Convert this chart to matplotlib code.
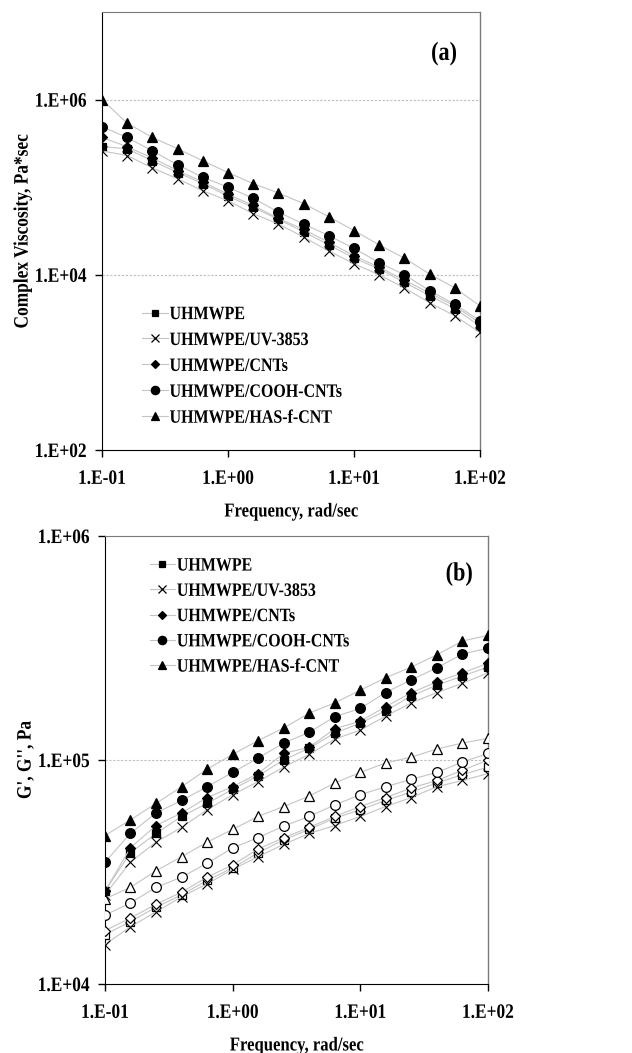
import math
import matplotlib
matplotlib.use("Agg")
import matplotlib.pyplot as plt
from matplotlib.lines import Line2D
from matplotlib.patheffects import AbstractPathEffect
from matplotlib.transforms import Affine2D

plt.rcParams['font.family'] = ['Liberation Serif', 'DejaVu Serif']
plt.rcParams['font.weight'] = 'bold'

freq = [0.1, 0.158, 0.251, 0.398, 0.631, 1.0, 1.58, 2.51, 3.98, 6.31,
        10.0, 15.8, 25.1, 39.8, 63.1, 100.0]

names = ["UHMWPE", "UHMWPE/UV-3853", "UHMWPE/CNTs", "UHMWPE/COOH-CNTs", "UHMWPE/HAS-f-CNT"]

# (a) complex viscosity, Pa*sec
eta_uhmwpe = [2.9e5, 2.75e5, 2.0e5, 1.47e5, 1.1e5, 7.9e4, 5.9e4, 4.3e4, 3.1e4, 2.2e4,
              1.55e4, 1.17e4, 8.2e3, 5.8e3, 4.1e3, 2.6e3]
eta_uv = [2.6e5, 2.3e5, 1.66e5, 1.25e5, 9.1e4, 7.0e4, 5.0e4, 3.8e4, 2.7e4, 1.87e4,
          1.34e4, 1.0e4, 7.1e3, 4.8e3, 3.4e3, 2.2e3]
eta_cnt = [3.7e5, 2.9e5, 2.15e5, 1.55e5, 1.15e5, 8.3e4, 6.2e4, 4.4e4, 3.3e4, 2.35e4,
           1.65e4, 1.22e4, 8.7e3, 6.2e3, 4.4e3, 2.8e3]
eta_cooh = [4.9e5, 3.7e5, 2.6e5, 1.8e5, 1.3e5, 1.0e5, 7.5e4, 5.2e4, 3.8e4, 2.8e4,
            2.0e4, 1.38e4, 1.0e4, 6.6e3, 4.6e3, 3.0e3]
eta_has = [1.0e6, 5.4e5, 3.7e5, 2.75e5, 2.0e5, 1.47e5, 1.1e5, 8.6e4, 6.5e4, 4.6e4,
           3.2e4, 2.2e4, 1.55e4, 1.02e4, 7.1e3, 4.4e3]

# (b) storage modulus G' (filled) and loss modulus G'' (open), Pa
gp_uhmwpe = [2.6e4, 3.85e4, 4.7e4, 5.6e4, 6.4e4, 7.4e4, 8.5e4, 1.0e5, 1.13e5, 1.32e5,
             1.46e5, 1.66e5, 1.93e5, 2.16e5, 2.37e5, 2.6e5]
gp_uv = [2.5e4, 3.5e4, 4.3e4, 5.0e4, 6.0e4, 7.0e4, 8.0e4, 9.3e4, 1.06e5, 1.24e5,
         1.36e5, 1.57e5, 1.8e5, 2.0e5, 2.2e5, 2.45e5]
gp_cnt = [2.6e4, 4.05e4, 5.1e4, 5.8e4, 6.8e4, 7.6e4, 8.7e4, 1.07e5, 1.14e5, 1.38e5,
          1.49e5, 1.73e5, 2.0e5, 2.23e5, 2.45e5, 2.7e5]
gp_cooh = [3.5e4, 4.7e4, 5.8e4, 6.6e4, 7.6e4, 8.8e4, 1.02e5, 1.19e5, 1.33e5, 1.56e5,
           1.7e5, 2.0e5, 2.28e5, 2.58e5, 2.97e5, 3.16e5]
gp_has = [4.6e4, 5.4e4, 6.4e4, 7.6e4, 9.1e4, 1.06e5, 1.22e5, 1.39e5, 1.62e5, 1.8e5,
          2.05e5, 2.33e5, 2.6e5, 2.95e5, 3.4e5, 3.6e5]

gpp_uhmwpe = [1.66e4, 1.9e4, 2.2e4, 2.5e4, 2.9e4, 3.3e4, 3.85e4, 4.4e4, 4.9e4, 5.5e4,
              6.0e4, 6.6e4, 7.2e4, 7.9e4, 8.6e4, 9.3e4]
gpp_uv = [1.5e4, 1.8e4, 2.1e4, 2.45e4, 2.8e4, 3.25e4, 3.7e4, 4.2e4, 4.7e4, 5.1e4,
          5.6e4, 6.2e4, 6.8e4, 7.6e4, 8.1e4, 8.7e4]
gpp_cnt = [1.73e4, 1.97e4, 2.27e4, 2.57e4, 3.0e4, 3.4e4, 4.0e4, 4.5e4, 5.0e4, 5.6e4,
           6.2e4, 6.8e4, 7.5e4, 8.1e4, 9.0e4, 1.0e5]
gpp_cooh = [2.03e4, 2.3e4, 2.7e4, 3.0e4, 3.46e4, 4.05e4, 4.5e4, 5.07e4, 5.6e4, 6.3e4,
            7.0e4, 7.6e4, 8.2e4, 8.8e4, 9.8e4, 1.07e5]
gpp_has = [2.4e4, 2.7e4, 3.2e4, 3.7e4, 4.3e4, 4.9e4, 5.6e4, 6.2e4, 6.9e4, 7.9e4,
           8.8e4, 9.7e4, 1.03e5, 1.12e5, 1.19e5, 1.25e5]

markers = ['s', 'x', 'D', 'o', '^']
msizes = [6, 7, 5, 7, 7]
line_c = '#c4c4c4'


class Stretch(AbstractPathEffect):
    """Stretch glyphs vertically (condensed look of the original)."""
    def __init__(self, sy=1.18):
        super().__init__()
        self.sy = sy

    def draw_path(self, renderer, gc, tpath, affine, rgbFace=None):
        c = 33.0
        t = Affine2D().translate(0, -c).scale(1.0, self.sy).translate(0, c) + affine
        renderer.draw_path(gc, tpath, t, rgbFace)


STR = [Stretch(1.18)]

fig = plt.figure(figsize=(6.32, 10.53), dpi=100)
axA = fig.add_axes([102/632, 1-450/1053, 378/632, 438/1053])
axB = fig.add_axes([105/632, 1-984/1053, 383/632, 448/1053])


def style(ax, ylim, yticks, grid_vals):
    ax.set_xscale('log')
    ax.set_yscale('log')
    ax.set_xlim(0.1, 100)
    ax.set_ylim(*ylim)
    ax.set_xticks([0.1, 1, 10, 100])
    ax.set_xticklabels(['1.E-01', '1.E+00', '1.E+01', '1.E+02'])
    ax.set_yticks(yticks)
    ax.set_yticklabels(['1.E+%02d' % int(round(math.log10(v))) for v in yticks])
    ax.minorticks_off()
    ax.tick_params(axis='both', direction='out', length=5, width=1, labelsize=12.5, color='black')
    ax.tick_params(axis='x', pad=10)
    ax.tick_params(axis='y', pad=6)
    for v in grid_vals:
        ax.axhline(v, color='#bdbdbd', lw=0.8, ls=(0, (2, 1.5)), zorder=0)
    ax.spines['left'].set_color('black')
    ax.spines['bottom'].set_color('black')
    ax.spines['top'].set_color('#7a7a7a')
    ax.spines['right'].set_color('#7a7a7a')
    ax.spines['top'].set_linewidth(0.8)
    ax.spines['right'].set_linewidth(1.0)
    for lab in ax.get_xticklabels() + ax.get_yticklabels():
        lab.set_fontweight('bold')
        lab.set_path_effects(STR)


def plot_series(ax, y, i, filled=True):
    mfc = 'black' if filled else 'white'
    ax.plot(freq, y, color=line_c, lw=0.8, marker=markers[i], ms=msizes[i],
            mfc=mfc, mec='black', mew=0.9 if markers[i] != 'x' else 0.8, zorder=3)


eta_all = [eta_uhmwpe, eta_uv, eta_cnt, eta_cooh, eta_has]
for i, y in enumerate(eta_all):
    plot_series(axA, y, i)
style(axA, (1e2, 1e7), [1e2, 1e4, 1e6], [1e4, 1e6])
axA.set_ylabel('Complex Viscosity, Pa*sec', fontsize=12.5, fontweight='bold', labelpad=3)
axA.set_xlabel('Frequency, rad/sec', fontsize=12, fontweight='bold', labelpad=12)
tA = axA.text(0.905, 0.905, '(a)', transform=axA.transAxes, fontsize=16, fontweight='bold',
              ha='center', va='center')

gp_all = [gp_uhmwpe, gp_uv, gp_cnt, gp_cooh, gp_has]
gpp_all = [gpp_uhmwpe, gpp_uv, gpp_cnt, gpp_cooh, gpp_has]
for i, y in enumerate(gpp_all):
    plot_series(axB, y, i, filled=False)
for i, y in enumerate(gp_all):
    plot_series(axB, y, i, filled=True)
style(axB, (1e4, 1e6), [1e4, 1e5, 1e6], [1e5])
axB.set_ylabel("G', G'', Pa", fontsize=12.5, fontweight='bold', labelpad=3)
axB.set_xlabel('Frequency, rad/sec', fontsize=12, fontweight='bold', labelpad=12)
tB = axB.text(0.925, 0.915, '(b)', transform=axB.transAxes, fontsize=16, fontweight='bold',
              ha='center', va='center')

for t in (tA, tB, axA.xaxis.label, axA.yaxis.label, axB.xaxis.label, axB.yaxis.label):
    t.set_path_effects(STR)


def make_handles():
    hs = []
    for i in range(5):
        hs.append(Line2D([], [], color=line_c, lw=0.8, marker=markers[i], ms=msizes[i] - 1,
                         mfc='black', mec='black', mew=0.9))
    return hs


legA = axA.legend(make_handles(), names, loc='upper left', bbox_to_anchor=(0.09, 0.343),
                  frameon=False, fontsize=11.5, handlelength=1.6, handletextpad=0.1,
                  labelspacing=0.62, borderaxespad=0)
legB = axB.legend(make_handles(), names, loc='upper left', bbox_to_anchor=(0.1, 0.966),
                  frameon=False, fontsize=11.5, handlelength=1.6, handletextpad=0.1,
                  labelspacing=0.58, borderaxespad=0)
for leg in (legA, legB):
    for t in leg.get_texts():
        t.set_fontweight('bold')
        t.set_path_effects(STR)

fig.savefig('out.png', dpi=100)
